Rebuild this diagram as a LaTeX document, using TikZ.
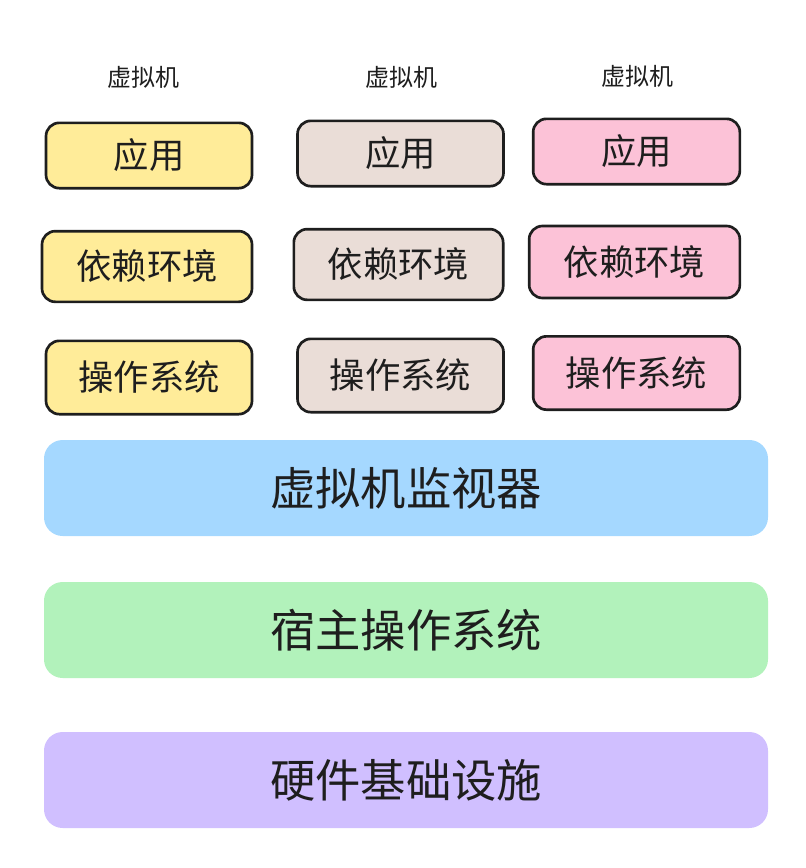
\documentclass[tikz,border=0pt]{standalone}
\usepackage{fontspec}
\setmainfont{Noto Sans CJK SC}
\usepackage{tikz}
\usetikzlibrary{positioning}
\definecolor{Ink}{HTML}{1E1E1E}
\definecolor{AppYellow}{HTML}{FFEC99}
\definecolor{AppSand}{HTML}{EADDD7}
\definecolor{AppPink}{HTML}{FCC2D7}
\definecolor{HypBlue}{HTML}{A5D8FF}
\definecolor{HostGreen}{HTML}{B2F2BB}
\definecolor{HwPurple}{HTML}{D0BFFF}

\begin{document}
\begin{tikzpicture}[x=0.75pt,y=-0.75pt,
          vmlabel/.style={text=Ink,font=\fontsize{18}{20}\selectfont},
          vmbox/.style={draw=Ink,line width=2pt,rounded corners=10pt,
            text=Ink,font=\fontsize{26.5}{29}\selectfont,
            minimum width=154.5pt,inner sep=0pt},
          layer/.style={rounded corners=14pt,text=Ink,
            font=\fontsize{34}{38}\selectfont,
            minimum width=543pt,minimum height=72pt,inner sep=0pt}]
        \useasboundingbox (0,0) rectangle (806,868);

        % column headers
        \node[vmlabel] (vmA) at (143,77) {虚拟机};
        \node[vmlabel] (vmB) at (401,77) {虚拟机};
        \node[vmlabel] (vmC) at (637,76) {虚拟机};

        % first virtual machine
        \node[vmbox,fill=AppYellow,minimum height=49pt] (appA) at (149,155.5) {应用};
        \node[vmbox,fill=AppYellow,minimum height=53pt,minimum width=157.5pt]
          (depA) at (147,266.5) {依赖环境};
        \node[vmbox,fill=AppYellow,minimum height=55pt] (osA) at (149,377.5) {操作系统};

        % second virtual machine
        \node[vmbox,fill=AppSand,minimum height=49pt] (appB) at (400.5,153.5) {应用};
        \node[vmbox,fill=AppSand,minimum height=53pt,minimum width=157pt]
          (depB) at (398.5,264.5) {依赖环境};
        \node[vmbox,fill=AppSand,minimum height=55pt] (osB) at (400.5,375.5) {操作系统};

        % third virtual machine
        \node[vmbox,fill=AppPink,minimum height=49pt,minimum width=155pt]
          (appC) at (636.5,151.5) {应用};
        \node[vmbox,fill=AppPink,minimum height=54pt,minimum width=158pt]
          (depC) at (634.5,262) {依赖环境};
        \node[vmbox,fill=AppPink,minimum height=55pt,minimum width=155pt]
          (osC) at (636.5,373) {操作系统};

        % shared layers
        \node[layer,fill=HypBlue] (hyper) at (406,488) {虚拟机监视器};
        \node[layer,fill=HostGreen] (hostos) at (406,630) {宿主操作系统};
        \node[layer,fill=HwPurple] (infra) at (406,780) {硬件基础设施};
      \end{tikzpicture}
\end{document}
